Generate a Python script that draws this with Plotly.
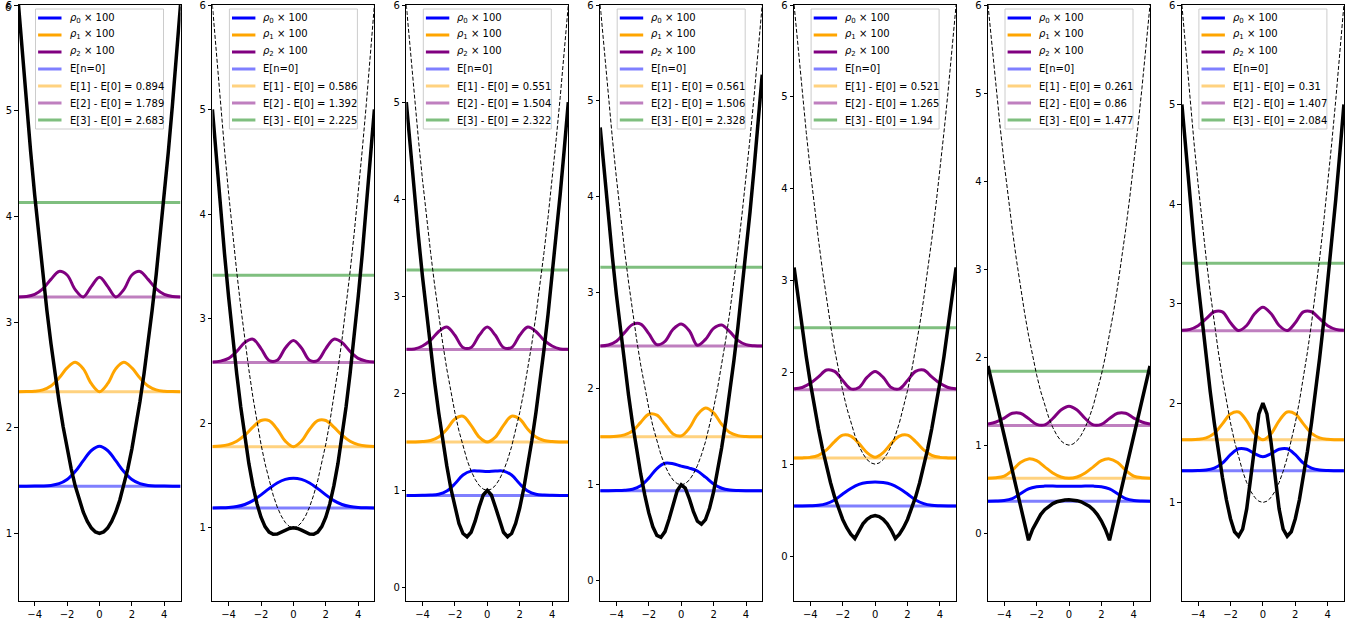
import math
import plotly.graph_objects as go

# ---------------- data ----------------
# fine grid used for the potentials
XV = [-5.0, -4.75, -4.5, -4.25, -4.0, -3.75, -3.5, -3.25, -3.0, -2.75, -2.5, -2.25, -2.0, -1.75, -1.5,
      -1.25, -1.0, -0.75, -0.5, -0.25, 0.0, 0.25, 0.5, 0.75, 1.0, 1.25, 1.5, 1.75, 2.0, 2.25, 2.5,
      2.75, 3.0, 3.25, 3.5, 3.75, 4.0, 4.25, 4.5, 4.75, 5.0]
# coarse grid used for the densities
XD = [-5.0, -4.5, -4.0, -3.5, -3.0, -2.5, -2.0, -1.5, -1.0, -0.5, 0.0, 0.5, 1.0, 1.5, 2.0, 2.5, 3.0,
      3.5, 4.0, 4.5, 5.0]

# harmonic reference potential (dashed)
V_REF = [6.0, 5.513, 5.05, 4.613, 4.2, 3.813, 3.45, 3.113, 2.8, 2.513, 2.25, 2.013, 1.8, 1.613, 1.45,
         1.313, 1.2, 1.113, 1.05, 1.013, 1.0, 1.013, 1.05, 1.113, 1.2, 1.313, 1.45, 1.613, 1.8, 2.013,
         2.25, 2.513, 2.8, 3.113, 3.45, 3.813, 4.2, 4.613, 5.05, 5.513, 6.0]

V_P1 = [6.0, 5.513, 5.05, 4.613, 4.2, 3.813, 3.45, 3.113, 2.8, 2.513, 2.25, 2.013, 1.8, 1.613, 1.45,
        1.313, 1.2, 1.113, 1.05, 1.013, 1.0, 1.013, 1.05, 1.113, 1.2, 1.313, 1.45, 1.613, 1.8, 2.013,
        2.25, 2.513, 2.8, 3.113, 3.45, 3.813, 4.2, 4.613, 5.05, 5.513, 6.0]
V_P2 = [5.001, 4.514, 4.052, 3.617, 3.208, 2.827, 2.475, 2.155, 1.867, 1.616, 1.403, 1.231, 1.101,
        1.011, 0.959, 0.938, 0.941, 0.957, 0.978, 0.994, 1.0, 0.994, 0.978, 0.957, 0.941, 0.938, 0.959,
        1.011, 1.101, 1.231, 1.403, 1.616, 1.867, 2.155, 2.475, 2.827, 3.208, 3.617, 4.052, 4.514, 5.001]
V_P3 = [5.0, 4.513, 4.05, 3.613, 3.2, 2.813, 2.45, 2.113, 1.8, 1.513, 1.252, 1.019, 0.818, 0.659, 0.555,
        0.522, 0.568, 0.682, 0.829, 0.952, 1.0, 0.952, 0.829, 0.682, 0.568, 0.522, 0.555, 0.659, 0.818,
        1.019, 1.252, 1.513, 1.8, 2.113, 2.45, 2.813, 3.2, 3.613, 4.05, 4.513, 5.0]
V_P4 = [4.725, 4.251, 3.803, 3.379, 2.98, 2.606, 2.258, 1.934, 1.635, 1.362, 1.114, 0.895, 0.708, 0.563,
        0.473, 0.453, 0.513, 0.641, 0.801, 0.938, 1.0, 0.966, 0.856, 0.724, 0.623, 0.591, 0.638, 0.756,
        0.928, 1.143, 1.389, 1.664, 1.965, 2.291, 2.643, 3.019, 3.42, 3.846, 4.298, 4.774, 5.275]
V_P5 = [3.143, 2.798, 2.473, 2.17, 1.888, 1.628, 1.388, 1.17, 0.973, 0.798, 0.643, 0.51, 0.398, 0.308,
        0.238, 0.19, 0.28, 0.35, 0.40, 0.43, 0.44, 0.43, 0.40, 0.35, 0.28, 0.19, 0.238, 0.308, 0.398,
        0.51, 0.643, 0.798, 0.973, 1.17, 1.388, 1.628, 1.888, 2.17, 2.473, 2.798, 3.143]
V_P6 = [1.9, 1.702, 1.504, 1.306, 1.108, 0.91, 0.712, 0.514, 0.316, 0.118, -0.08, 0.043, 0.139, 0.212,
        0.267, 0.308, 0.337, 0.357, 0.37, 0.378, 0.38, 0.378, 0.37, 0.357, 0.337, 0.308, 0.267, 0.212,
        0.139, 0.043, -0.08, 0.118, 0.316, 0.514, 0.712, 0.91, 1.108, 1.306, 1.504, 1.702, 1.9]
V_P7 = [5.0, 4.513, 4.05, 3.613, 3.2, 2.813, 2.45, 2.113, 1.8, 1.514, 1.254, 1.025, 0.837, 0.706, 0.661,
        0.732, 0.936, 1.252, 1.608, 1.891, 2.0, 1.891, 1.608, 1.252, 0.936, 0.732, 0.661, 0.706, 0.837,
        1.025, 1.254, 1.514, 1.8, 2.113, 2.45, 2.813, 3.2, 3.613, 4.05, 4.513, 5.0]

# ground-state energies and excitation energies E[n] - E[0]
E0_LIST = [1.447, 1.19, 0.948, 0.94, 0.545, 0.363, 1.32]
DE1 = [0.894, 0.586, 0.551, 0.561, 0.521, 0.261, 0.31]
DE2 = [1.789, 1.392, 1.504, 1.506, 1.265, 0.86, 1.407]
DE3 = [2.683, 2.225, 2.322, 2.328, 1.94, 1.477, 2.084]

# densities x 100 (on XD)
RHO0 = [
    [0, 0, 0.0003, 0.0016, 0.0067, 0.023, 0.063, 0.138, 0.241, 0.337, 0.377, 0.337, 0.241, 0.138, 0.063, 0.023, 0.0067, 0.0016, 0.0003, 0, 0],
    [0, 0.001, 0.004, 0.013, 0.033, 0.07, 0.125, 0.185, 0.238, 0.273, 0.285, 0.273, 0.238, 0.185, 0.125, 0.07, 0.033, 0.013, 0.004, 0.001, 0],
    [0, 0, 0.001, 0.003, 0.012, 0.045, 0.12, 0.21, 0.25, 0.25, 0.245, 0.25, 0.25, 0.21, 0.12, 0.045, 0.012, 0.003, 0.001, 0, 0],
    [0, 0, 0.001, 0.004, 0.015, 0.05, 0.13, 0.23, 0.285, 0.28, 0.255, 0.235, 0.205, 0.14, 0.07, 0.025, 0.007, 0.002, 0, 0, 0],
    [0, 0, 0.002, 0.007, 0.025, 0.065, 0.13, 0.19, 0.235, 0.255, 0.26, 0.255, 0.235, 0.19, 0.13, 0.065, 0.025, 0.007, 0.002, 0, 0],
    [0, 0.002, 0.008, 0.03, 0.085, 0.14, 0.165, 0.172, 0.172, 0.17, 0.17, 0.17, 0.172, 0.172, 0.165, 0.14, 0.085, 0.03, 0.008, 0.002, 0],
    [0, 0, 0.001, 0.006, 0.025, 0.075, 0.16, 0.22, 0.215, 0.17, 0.14, 0.17, 0.215, 0.22, 0.16, 0.075, 0.025, 0.006, 0.001, 0, 0],
]
RHO1 = [
    [0.0001, 0.0008, 0.0042, 0.0173, 0.0543, 0.1289, 0.2251, 0.2775, 0.2155, 0.0753, 0, 0.0753, 0.2155, 0.2775, 0.2251, 0.1289, 0.0543, 0.0173, 0.0042, 0.0008, 0.0001],
    [0.002, 0.006, 0.02, 0.052, 0.11, 0.187, 0.25, 0.249, 0.167, 0.053, 0, 0.053, 0.167, 0.249, 0.25, 0.187, 0.11, 0.052, 0.02, 0.006, 0.002],
    [0, 0, 0.003, 0.014, 0.05, 0.13, 0.235, 0.265, 0.17, 0.05, 0, 0.05, 0.17, 0.265, 0.235, 0.13, 0.05, 0.014, 0.003, 0, 0],
    [0, 0.001, 0.005, 0.02, 0.06, 0.15, 0.235, 0.225, 0.13, 0.03, 0.01, 0.09, 0.23, 0.30, 0.25, 0.13, 0.045, 0.012, 0.003, 0, 0],
    [0, 0.002, 0.008, 0.03, 0.09, 0.18, 0.25, 0.24, 0.16, 0.06, 0.01, 0.06, 0.16, 0.24, 0.25, 0.18, 0.09, 0.03, 0.008, 0.002, 0],
    [0.001, 0.006, 0.025, 0.09, 0.18, 0.22, 0.20, 0.13, 0.06, 0.015, 0, 0.015, 0.06, 0.13, 0.20, 0.22, 0.18, 0.09, 0.025, 0.006, 0.001],
    [0, 0.001, 0.005, 0.02, 0.065, 0.16, 0.26, 0.28, 0.19, 0.06, 0, 0.06, 0.19, 0.28, 0.26, 0.16, 0.065, 0.02, 0.005, 0.001, 0],
]
RHO2 = [
    [0.0012, 0.0064, 0.0261, 0.078, 0.1675, 0.243, 0.209, 0.0707, 0.0013, 0.1015, 0.1885, 0.1015, 0.0013, 0.0707, 0.209, 0.243, 0.1675, 0.078, 0.0261, 0.0064, 0.0012],
    [0.003, 0.012, 0.038, 0.105, 0.19, 0.222, 0.132, 0.0185, 0.02, 0.1375, 0.21, 0.1375, 0.02, 0.0185, 0.132, 0.222, 0.19, 0.105, 0.038, 0.012, 0.003],
    [0.001, 0.005, 0.035, 0.095, 0.185, 0.23, 0.145, 0.02, 0.02, 0.145, 0.23, 0.145, 0.02, 0.02, 0.145, 0.23, 0.185, 0.095, 0.035, 0.005, 0.001],
    [0.002, 0.012, 0.05, 0.14, 0.225, 0.23, 0.13, 0.015, 0.05, 0.175, 0.23, 0.16, 0.008, 0.07, 0.185, 0.22, 0.15, 0.06, 0.015, 0.003, 0],
    [0.01, 0.025, 0.07, 0.14, 0.215, 0.20, 0.10, 0.01, 0.025, 0.135, 0.20, 0.135, 0.025, 0.01, 0.10, 0.20, 0.215, 0.14, 0.07, 0.025, 0.01],
    [0.018, 0.04, 0.085, 0.14, 0.14, 0.08, 0.014, 0.0075, 0.08, 0.176, 0.22, 0.176, 0.08, 0.0075, 0.014, 0.08, 0.14, 0.14, 0.085, 0.04, 0.018],
    [0.003, 0.013, 0.05, 0.12, 0.19, 0.188, 0.079, 0.001, 0.052, 0.172, 0.235, 0.172, 0.052, 0.001, 0.079, 0.188, 0.19, 0.12, 0.05, 0.013, 0.003],
]

POTENTIALS = [V_P1, V_P2, V_P3, V_P4, V_P5, V_P6, V_P7]
Y_BOTTOM = [0.36, 0.30, -0.14, -0.21, -0.49, -0.77, 0.01]
Y_TOP = 6
X_TICKS = [-4, -2, 0, 2, 4]

RHO_COLORS = ["#0000ff", "#ffa500", "#800080"]
LEVEL_COLORS = ["rgba(0,0,255,0.5)", "rgba(255,165,0,0.5)", "rgba(128,0,128,0.5)", "rgba(0,128,0,0.5)"]

# ---------------- layout geometry (pixels) ----------------
W, H = 1362, 626
M_TOP, M_BOT = 5, 25
PLOT_H = H - M_TOP - M_BOT
LEFT0 = 18.5
STEP = 193.9
PW = 162.0
FONT = "DejaVu Sans"
TICK_LEN = 3.5

# legend box geometry (pixels)
LEG_W = 128
LEG_TOP, LEG_BOT = 9, 129
LEG_ROW0, LEG_ROW_STEP = 18, 17
LEG_LINE_X0, LEG_LINE_X1, LEG_TEXT_X = 2.6, 26, 32


def px_x(px):
    return px / W


def px_y(py):
    return (H - M_BOT - py) / PLOT_H


def minus(v):
    return str(v).replace("-", "\u2212")


fig = go.Figure()
layout = dict(
    width=W, height=H,
    margin=dict(l=0, r=0, t=M_TOP, b=M_BOT, pad=0),
    paper_bgcolor="white", plot_bgcolor="white",
    font=dict(family=FONT, size=10, color="black"),
    hovermode=False, showlegend=False,
)
shapes = []
annotations = []

for i in range(7):
    sfx = "" if i == 0 else str(i + 1)
    xa, ya = "x" + sfx, "y" + sfx
    e0 = E0_LIST[i]
    levels = [e0, e0 + DE1[i], e0 + DE2[i], e0 + DE3[i]]
    level_labels = ["E[n=0]",
                    f"E[1] - E[0] = {DE1[i]}",
                    f"E[2] - E[0] = {DE2[i]}",
                    f"E[3] - E[0] = {DE3[i]}"]
    rho_labels = [f"<i>\u03c1</i><sub>{n}</sub> \u00d7 100" for n in range(3)]

    # energy levels
    for n in range(4):
        fig.add_trace(go.Scatter(
            x=[XD[0], XD[-1]], y=[levels[n], levels[n]], mode="lines",
            line=dict(color=LEVEL_COLORS[n], width=3),
            name=level_labels[n], xaxis=xa, yaxis=ya))

    # densities (x100) offset by their energies
    for n, rho in enumerate([RHO0[i], RHO1[i], RHO2[i]]):
        fig.add_trace(go.Scatter(
            x=XD, y=[levels[n] + r for r in rho], mode="lines",
            line=dict(color=RHO_COLORS[n], width=3, shape="spline", smoothing=1.0),
            name=rho_labels[n], xaxis=xa, yaxis=ya))

    # potential
    fig.add_trace(go.Scatter(
        x=XV, y=POTENTIALS[i], mode="lines",
        line=dict(color="black", width=3.5), name="V", xaxis=xa, yaxis=ya))
    # harmonic reference
    fig.add_trace(go.Scatter(
        x=XV, y=V_REF, mode="lines",
        line=dict(color="black", width=1, dash="4px,2px"), name="V_ref", xaxis=xa, yaxis=ya))

    left = LEFT0 + STEP * i
    common = dict(
        showline=True, linecolor="black", linewidth=1, mirror=True,
        ticks="outside", ticklen=TICK_LEN, tickwidth=1, tickcolor="black",
        showgrid=False, zeroline=False, automargin=False,
        ticklabeloverflow="allow",
        tickfont=dict(family=FONT, size=10, color="black"),
    )
    layout["xaxis" + sfx] = dict(
        domain=[left / W, (left + PW) / W], range=[-5, 5], anchor=ya,
        tickvals=X_TICKS, ticktext=[minus(t) for t in X_TICKS], **common)
    yt = list(range(math.ceil(Y_BOTTOM[i]), Y_TOP + 1))
    layout["yaxis" + sfx] = dict(
        domain=[0, 1], range=[Y_BOTTOM[i], Y_TOP + 1e-6], anchor=xa,
        tickvals=yt, ticktext=[minus(t) for t in yt], **common)

    # the top tick label of the first panel is dropped by the renderer: draw it as text
    if i == 0:
        annotations.append(dict(
            xref="paper", yref="paper", x=px_x(left - TICK_LEN - 2), y=px_y(0.5),
            xanchor="right", yanchor="top", text=str(Y_TOP), showarrow=False,
            font=dict(family=FONT, size=10, color="black")))

    # ---- legend (box + samples + labels) ----
    box_l = left + PW / 2 - LEG_W / 2
    shapes.append(dict(
        type="rect", xref="paper", yref="paper", layer="above",
        x0=px_x(box_l), x1=px_x(box_l + LEG_W), y0=px_y(LEG_BOT), y1=px_y(LEG_TOP),
        fillcolor="rgba(255,255,255,0.8)", line=dict(color="#cccccc", width=1)))
    entries = list(zip(rho_labels, RHO_COLORS)) + list(zip(level_labels, LEVEL_COLORS))
    for k, (lab, col) in enumerate(entries):
        yy = LEG_ROW0 + LEG_ROW_STEP * k
        shapes.append(dict(
            type="line", xref="paper", yref="paper", layer="above",
            x0=px_x(box_l + LEG_LINE_X0), x1=px_x(box_l + LEG_LINE_X1),
            y0=px_y(yy), y1=px_y(yy), line=dict(color=col, width=3)))
        annotations.append(dict(
            xref="paper", yref="paper", x=px_x(box_l + LEG_TEXT_X), y=px_y(yy),
            xanchor="left", yanchor="middle", text=lab, showarrow=False,
            font=dict(family=FONT, size=10, color="black")))

layout["shapes"] = shapes
layout["annotations"] = annotations
fig.update_layout(**layout)
fig.write_html("out.html", config={"displayModeBar": False})
